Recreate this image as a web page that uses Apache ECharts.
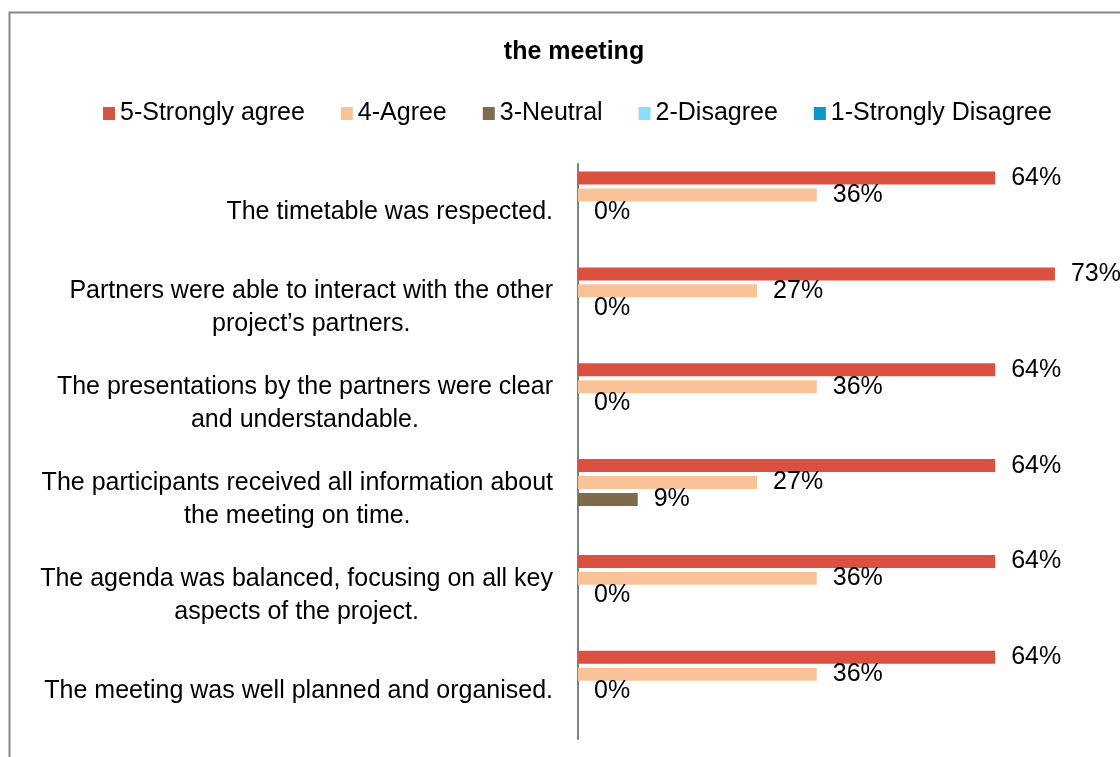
<!DOCTYPE html>
<html>
<head>
<meta charset="utf-8">
<script src="https://cdn.jsdelivr.net/npm/echarts@6/dist/echarts.min.js"></script>
<style>
  html, body { margin: 0; padding: 0; background: #fff; }
  #meeting_chart { width: 1120px; height: 757px; }
</style>
</head>
<body>
<div id="meeting_chart"></div>
<script>
// categories, top to bottom
var questions = [
  "The timetable was respected.",
  "Partners were able to interact with the other\nproject\u2019s partners.",
  "The presentations by the partners were clear\nand understandable.",
  "The participants received all information about\nthe meeting on time.",
  "The agenda was balanced, focusing on all key\naspects of the project.",
  "The meeting was well planned and organised."
];
var seriesNames = ["5-Strongly agree", "4-Agree", "3-Neutral", "2-Disagree", "1-Strongly Disagree"];
// share of answers, in %
var stronglyAgree = [63.6, 72.7, 63.6, 63.6, 63.6, 63.6];
var agree = [36.4, 27.3, 36.4, 27.3, 36.4, 36.4];
var neutral = [0, 0, 0, 9.1, 0, 0];
var disagree = [null, null, null, null, null, null];
var stronglyDisagree = [null, null, null, null, null, null];

var colors = ["#DB513F", "#F9C397", "#7D6B4B", "#8EDCF8", "#0A97CC"];
var font = "Liberation Sans";
var fs = 25;

var meeting_chart = echarts.init(document.getElementById("meeting_chart"));

function makeSeries(name, data) {
  return {
    name: name,
    type: "bar",
    data: data,
    barWidth: 13,
    barGap: "30%",
    animation: false,
    label: {
      show: true,
      position: "right",
      distance: 16,
      color: "#000",
      fontFamily: font,
      fontSize: fs,
      formatter: function (p) {
        return Math.round(p.value) + "%";
      }
    }
  };
}

let option = {
  color: colors,
  textStyle: { fontFamily: font },
  title: {
    text: "the meeting",
    left: 569,
    textAlign: "center",
    top: 35,
    textStyle: {
      fontFamily: font,
      fontWeight: "bold",
      fontSize: 25,
      color: "#000"
    }
  },
  legend: {
    top: 96,
    left: 98,
    icon: "rect",
    itemWidth: 12,
    itemHeight: 13,
    itemGap: 36,
    selectedMode: false,
    textStyle: { fontFamily: font, fontSize: fs, color: "#000" },
    data: seriesNames
  },
  graphic: [
    {
      type: "rect",
      left: 7,
      top: 10,
      shape: { width: 1300, height: 900 },
      style: { fill: "none", stroke: "#888", lineWidth: 2 },
      silent: true
    }
  ],
  grid: {
    left: 578,
    top: 164,
    width: 656,
    height: 575,
    containLabel: false,
    outerBoundsMode: "none"
  },
  xAxis: {
    type: "value",
    min: 0,
    max: 100,
    show: false,
    splitLine: { show: false }
  },
  yAxis: {
    type: "category",
    inverse: true,
    data: questions,
    axisLine: { show: true, lineStyle: { color: "#808080", width: 2 } },
    axisTick: { show: false },
    axisLabel: {
      margin: 25,
      color: "#000",
      fontFamily: font,
      fontSize: fs,
      lineHeight: 33,
      formatter: function (v) {
        return v.split("\n").map(function (s) { return "{c|" + s + "}"; }).join("\n");
      },
      rich: {
        c: { align: "center", fontFamily: font, fontSize: fs, lineHeight: 33, color: "#000" }
      }
    }
  },
  series: [
    makeSeries(seriesNames[0], stronglyAgree),
    makeSeries(seriesNames[1], agree),
    makeSeries(seriesNames[2], neutral),
    makeSeries(seriesNames[3], disagree),
    makeSeries(seriesNames[4], stronglyDisagree)
  ]
};
meeting_chart.setOption(option);
</script>
</body>
</html>
